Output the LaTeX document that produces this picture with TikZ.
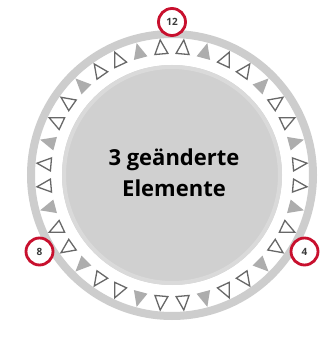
\documentclass[tikz,border=0pt]{standalone}
\usepackage{fontspec}
\setmainfont{Open Sans}
\definecolor{ringgray}{HTML}{CDCDCD}
\definecolor{diskgray}{HTML}{D0D0D0}
\definecolor{diskedge}{HTML}{DADADA}
\definecolor{fillgray}{HTML}{ADADAD}
\definecolor{trigray}{HTML}{686868}
\definecolor{markred}{HTML}{C8102E}
\definecolor{numgray}{HTML}{3A3A3A}
\begin{document}
\begin{tikzpicture}[x=1pt,y=1pt,
  ringc/.style={draw=ringgray, line width=8pt},
  outl/.style={draw=trigray, line width=1.3pt, fill=white},
  filt/.style={fill=fillgray},
  marker/.style={circle, draw=markred, line width=2.8pt, fill=white, minimum size=27pt, inner sep=0pt, font=\bfseries\fontsize{10}{10}\selectfont, text=numgray},
  txt/.style={font=\bfseries\fontsize{22}{22}\selectfont, text=black, anchor=base}]
\useasboundingbox (0,0) rectangle (327,351);
\fill[white] (0,0) rectangle (327,351);
\coordinate (C) at (172,176);
\draw[ringc] (C) circle[radius=141];
\fill[diskgray] (C) circle[radius=110];
\draw[diskedge, line width=4pt] (C) circle[radius=108];
\foreach \k in {0,...,35}{
  \pgfmathtruncatemacro\m{mod(\k,3)}
  \begin{scope}[shift={(C)}, rotate=-5-10*\k]
    \ifnum\m=1
      \fill[filt] (0,136.5) -- (-7,121) -- (7,121) -- cycle;
    \else
      \draw[outl] (0,135.5) -- (-6.5,121.5) -- (6.5,121.5) -- cycle;
    \fi
  \end{scope}
}
\node[marker] (m12) at ([shift={(90:153)}]C) {12};
\node[marker] (m4) at ([shift={(-30:153)}]C) {4};
\node[marker] (m8) at ([shift={(210:153)}]C) {8};
\node[txt] (l1) at (174,185) {3 geänderte};
\node[txt] (l2) at (174,154) {Elemente};
\end{tikzpicture}
\end{document}
